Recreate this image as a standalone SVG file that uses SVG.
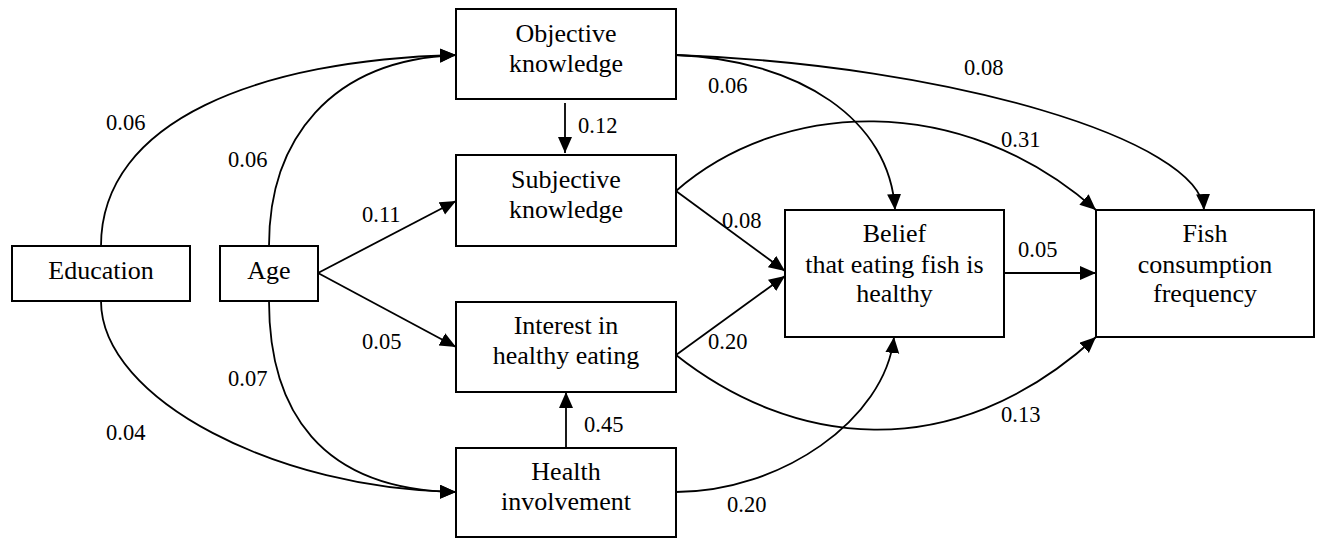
<svg xmlns="http://www.w3.org/2000/svg" width="1317" height="539" viewBox="0 0 1317 539">
<style>
.box{fill:#fff;stroke:#000;stroke-width:2}
.nt{font-size:26px;text-anchor:middle;fill:#000}
.lb{font-size:22.5px;fill:#000}
.c{fill:none;stroke:#000;stroke-width:1.8;marker-end:url(#ah)}
</style>
<defs>
<marker id="ah" markerUnits="userSpaceOnUse" markerWidth="17" markerHeight="15" refX="16" refY="7" orient="auto">
<path d="M0,0 L16,7 L0,14 z" fill="#000"/>
</marker>
</defs>
<rect width="1317" height="539" fill="#fff"/>
<g id="connectors">
<path class="c" d="M101,246 C101,120 260,60 456,55"/>
<path class="c" d="M269,246 C269,140 330,60 456,55"/>
<path class="c" d="M318,273 L456,201"/>
<path class="c" d="M318,273 L456,347"/>
<path class="c" d="M101,301 C101,400 280,490 456,492"/>
<path class="c" d="M269,301 C269,410 320,490 456,492"/>
<path class="c" d="M565,103 L565,153"/>
<path class="c" d="M566,448 L566,392"/>
<path class="c" d="M676,55 C800,60 890,120 895,210"/>
<path class="c" d="M676,55 C950,65 1200,140 1204,210"/>
<path class="c" d="M676,191 C780,100 960,90 1096,210"/>
<path class="c" d="M676,191 L785,271"/>
<path class="c" d="M676,355 L785,276"/>
<path class="c" d="M676,355 C790,445 950,470 1096,337"/>
<path class="c" d="M676,492 C780,492 885,420 894,337"/>
<path class="c" d="M1004,273 L1096,273"/>
</g>
<g id="labels" font-family="Liberation Serif, serif">
<text class="lb" x="106" y="130">0.06</text>
<text class="lb" x="228" y="167">0.06</text>
<text class="lb" x="362" y="222">0.11</text>
<text class="lb" x="362" y="349">0.05</text>
<text class="lb" x="228" y="386">0.07</text>
<text class="lb" x="106" y="440">0.04</text>
<text class="lb" x="578" y="133">0.12</text>
<text class="lb" x="708" y="93">0.06</text>
<text class="lb" x="722" y="228">0.08</text>
<text class="lb" x="708" y="349">0.20</text>
<text class="lb" x="584" y="432">0.45</text>
<text class="lb" x="727" y="512">0.20</text>
<text class="lb" x="964" y="75">0.08</text>
<text class="lb" x="1001" y="147">0.31</text>
<text class="lb" x="1018" y="257">0.05</text>
<text class="lb" x="1001" y="422">0.13</text>
</g>
<g id="nodes" font-family="Liberation Serif, serif">
<g id="education">
<rect class="box" x="12" y="246" width="178" height="55"/>
<text class="nt" x="101" y="279">Education</text>
</g>
<g id="age">
<rect class="box" x="220" y="246" width="98" height="55"/>
<text class="nt" x="269" y="279">Age</text>
</g>
<g id="objective">
<rect class="box" x="456" y="9" width="220" height="90"/>
<text class="nt" x="566" y="42">Objective</text>
<text class="nt" x="566" y="72">knowledge</text>
</g>
<g id="subjective">
<rect class="box" x="456" y="155" width="220" height="91"/>
<text class="nt" x="566" y="188">Subjective</text>
<text class="nt" x="566" y="218">knowledge</text>
</g>
<g id="interest">
<rect class="box" x="456" y="302" width="220" height="90"/>
<text class="nt" x="566" y="334">Interest in</text>
<text class="nt" x="566" y="364">healthy eating</text>
</g>
<g id="health">
<rect class="box" x="456" y="448" width="220" height="89"/>
<text class="nt" x="566" y="480">Health</text>
<text class="nt" x="566" y="510">involvement</text>
</g>
<g id="belief">
<rect class="box" x="785" y="210" width="219" height="127"/>
<text class="nt" x="894.5" y="242">Belief</text>
<text class="nt" x="894.5" y="273">that eating fish is</text>
<text class="nt" x="894.5" y="302">healthy</text>
</g>
<g id="fish">
<rect class="box" x="1096" y="210" width="218" height="127"/>
<text class="nt" x="1205" y="242">Fish</text>
<text class="nt" x="1205" y="273">consumption</text>
<text class="nt" x="1205" y="302">frequency</text>
</g>
</g>
</svg>
